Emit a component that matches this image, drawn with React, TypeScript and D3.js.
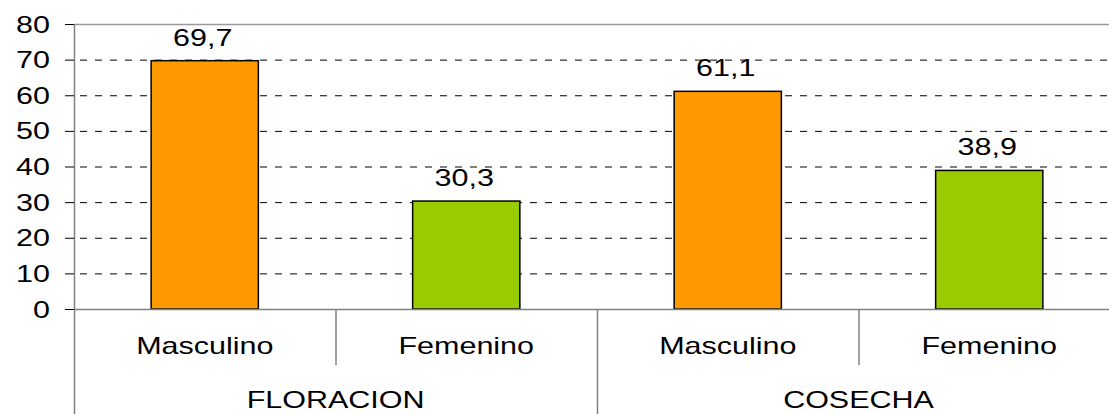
import React, { useEffect, useRef } from "react";
import * as d3 from "d3";

// grupos y sexos
const groups = ["FLORACION", "COSECHA"];
const sexes = ["Masculino", "Femenino"];
// porcentaje por grupo (Masculino, Femenino)
const floracionValues = [69.7, 30.3];
const cosechaValues = [61.1, 38.9];
const yTicks = [0, 10, 20, 30, 40, 50, 60, 70, 80];
const barColors = ["#FF9900", "#99CC00"];

function App() {
  const ref = useRef<SVGSVGElement>(null);

  useEffect(() => {
    drawChart();
  }, []);

  const drawChart = () => {
    const width = 1109, height = 414;
    const left = 74, right = 1120, top = 24, bottom = 309;
    const stretch = 1.27; // text in the original looks wide
    const fontSize = 24;

    const svg = d3.select(ref.current);
    svg.selectAll("*").remove();

    // flat table of cells
    const data: { key: string; group: string; sex: string; value: number; i: number }[] = [];
    const allValues = [floracionValues, cosechaValues];
    groups.forEach((g, gi) => {
      sexes.forEach((s, si) => {
        data.push({ key: g + "-" + s, group: g, sex: s, value: allValues[gi][si], i: si });
      });
    });

    const x = d3.scaleBand()
      .domain(data.map(d => d.key))
      .range([left, right])
      .padding(0);
    const y = d3.scaleLinear()
      .domain([0, 80])
      .range([bottom, top]);
    const barW = x.bandwidth() * 0.41;

    const txt = (sel, tx, ty, anchor, label) => {
      sel.append("text")
        .attr("transform", `translate(${tx},${ty}) scale(${stretch},1)`)
        .attr("text-anchor", anchor)
        .style("font-family", "'Liberation Sans', Arial, sans-serif")
        .style("font-size", fontSize + "px")
        .attr("fill", "#000")
        .text(label);
    };

    // dashed grid
    svg.append("g")
      .selectAll("line")
      .data(yTicks.filter(t => t > 0 && t < 80))
      .enter()
      .append("line")
      .attr("x1", left + 6)
      .attr("x2", right)
      .attr("y1", d => y(d) + 0.5)
      .attr("y2", d => y(d) + 0.5)
      .attr("stroke", "#000")
      .attr("stroke-width", 1)
      .attr("stroke-dasharray", "7,8");

    // top border
    svg.append("line")
      .attr("x1", left).attr("x2", right)
      .attr("y1", y(80) + 0.5).attr("y2", y(80) + 0.5)
      .attr("stroke", "#999").attr("stroke-width", 1.5);

    // bars
    svg.append("g")
      .selectAll("rect")
      .data(data)
      .enter()
      .append("rect")
      .attr("x", d => x(d.key) + (x.bandwidth() - barW) / 2)
      .attr("y", d => y(d.value))
      .attr("width", barW)
      .attr("height", d => y(0) - y(d.value))
      .attr("fill", d => barColors[d.i])
      .attr("stroke", "#000")
      .attr("stroke-width", 1.5);

    // value labels
    data.forEach(d => {
      txt(svg, x(d.key) + x.bandwidth() / 2 - 2, y(d.value) - 15, "middle", d3.format(".1f")(d.value).replace(".", ","));
    });

    // y axis
    svg.append("line")
      .attr("x1", left + 0.5).attr("x2", left + 0.5)
      .attr("y1", top).attr("y2", height)
      .attr("stroke", "#808080").attr("stroke-width", 1.5);
    yTicks.forEach(t => {
      svg.append("line")
        .attr("x1", left - 9).attr("x2", left)
        .attr("y1", y(t) + 0.5).attr("y2", y(t) + 0.5)
        .attr("stroke", "#000").attr("stroke-width", 1);
      txt(svg, 50, y(t) + 8.5, "end", String(t));
    });

    // x baseline
    svg.append("line")
      .attr("x1", left).attr("x2", right)
      .attr("y1", bottom + 0.5).attr("y2", bottom + 0.5)
      .attr("stroke", "#808080").attr("stroke-width", 1.5);

    // category dividers
    data.forEach((d, k) => {
      if (k === 0) return;
      const isGroupEdge = d.i === 0;
      svg.append("line")
        .attr("x1", x(d.key) + 0.5).attr("x2", x(d.key) + 0.5)
        .attr("y1", bottom).attr("y2", isGroupEdge ? height : 365)
        .attr("stroke", "#808080").attr("stroke-width", 1.5);
    });

    // sex labels
    data.forEach(d => {
      txt(svg, x(d.key) + x.bandwidth() / 2, 354, "middle", d.sex);
    });

    // group labels
    groups.forEach(g => {
      const x0 = x(g + "-" + sexes[0]);
      const x1 = x(g + "-" + sexes[sexes.length - 1]) + x.bandwidth();
      txt(svg, (x0 + x1) / 2, 408, "middle", g);
    });

    svg.attr("width", width).attr("height", height);
  };

  return (
    <svg
      ref={ref}
      width={1109}
      height={414}
      style={{ position: "absolute", left: 0, top: 0, background: "#fff" }}
    />
  );
}

export default App;
